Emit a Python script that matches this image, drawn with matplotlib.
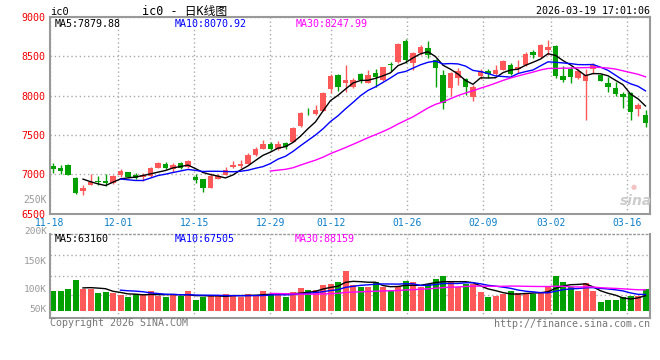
import matplotlib
matplotlib.use('Agg')
import matplotlib.pyplot as plt
import numpy as np
import pandas as pd

# daily OHLC (11-18 .. 03-19, 80 trading days)
opens = [7105, 7080, 7120, 6958, 6788, 6868, 6912, 6915, 6885, 6995,
         7029, 6995, 6962, 6978, 7084, 7131, 7064, 7144, 7093, 6966,
         6940, 6826, 6940, 6995, 7097, 7110, 7131, 7242, 7326, 7385,
         7322, 7398, 7411, 7610, 7810, 7767, 7809, 8089, 8263, 8157,
         8114, 8276, 8165, 8292, 8200, 8400, 8424, 8695, 8412, 8539,
         8602, 8453, 8263, 8094, 8229, 8212, 7987, 8250, 8314, 8272,
         8327, 8390, 8340, 8390, 8560, 8488, 8580, 8631, 8250, 8335,
         8229, 8191, 8335, 8263, 8165, 8094, 8021, 8038, 7830, 7754]
highs = [7140, 7118, 7125, 6968, 6864, 7000, 6978, 7000, 6985, 7064,
         7035, 7020, 7013, 7090, 7160, 7153, 7140, 7160, 7182, 7000,
         6945, 7013, 7000, 7097, 7169, 7182, 7271, 7351, 7436, 7407,
         7423, 7405, 7605, 7790, 7847, 7881, 8045, 8272, 8270, 8390,
         8230, 8285, 8327, 8335, 8370, 8428, 8670, 8717, 8550, 8650,
         8695, 8460, 8327, 8300, 8348, 8220, 8136, 8335, 8340, 8390,
         8455, 8420, 8454, 8560, 8585, 8655, 8708, 8640, 8381, 8369,
         8340, 8335, 8412, 8280, 8241, 8178, 8050, 8050, 7911, 7818]
lows = [7020, 7000, 6985, 6755, 6737, 6868, 6864, 6851, 6880, 6970,
        6965, 6936, 6911, 6970, 7075, 7064, 7033, 7064, 7085, 6893,
        6780, 6820, 6935, 6990, 7076, 7084, 7125, 7235, 7320, 7309,
        7315, 7326, 7405, 7600, 7754, 7760, 7800, 8038, 8063, 8050,
        8100, 8165, 8160, 8106, 8190, 8318, 8410, 8412, 8327, 8520,
        8475, 8114, 7827, 8000, 8136, 8008, 7936, 8208, 8229, 8265,
        8320, 8265, 8285, 8380, 8479, 8480, 8517, 8229, 8178, 8165,
        8210, 7690, 8276, 8180, 8050, 7996, 7847, 7690, 7742, 7605]
closes = [7065, 7042, 6990, 6766, 6830, 6902, 6902, 6885, 6978, 7038,
          6970, 6950, 6987, 7080, 7148, 7076, 7114, 7076, 7169, 6928,
          6826, 6982, 6978, 7055, 7118, 7135, 7249, 7322, 7382, 7322,
          7385, 7347, 7589, 7780, 7800, 7818, 8038, 8250, 8114, 8200,
          8200, 8200, 8263, 8237, 8361, 8390, 8657, 8453, 8539, 8623,
          8517, 8352, 7903, 8285, 8314, 8114, 8106, 8310, 8280, 8327,
          8441, 8272, 8361, 8530, 8517, 8644, 8614, 8254, 8200, 8241,
          8314, 8263, 8386, 8187, 8114, 8025, 7983, 7796, 7881, 7656]
volumes = [84000, 84000, 92400, 128900, 89500, 89500, 74300, 79800, 74300, 65900,
           58800, 68500, 65900, 82700, 61700, 58800, 70100, 61700, 82700, 44900,
           55900, 65900, 63000, 70100, 61700, 55900, 70100, 65900, 82700, 70100,
           65900, 58800, 78500, 95300, 86900, 86900, 107900, 112100, 120500, 168000,
           107900, 100800, 100800, 120500, 97900, 84000, 105000, 126000, 120500, 97900,
           112100, 133100, 145700, 120500, 97900, 112100, 112100, 78500, 57500, 61700,
           70100, 84000, 75600, 70100, 70100, 78500, 103700, 145700, 120500, 97900,
           84000, 116300, 82700, 37800, 44900, 44900, 55900, 61700, 61700, 91100]

tick_days = [0, 9, 19, 29, 37, 47, 57, 66, 76]
tick_labels = ['11-18', '12-01', '12-15', '12-29', '01-12', '01-26', '02-09', '03-02', '03-16']
price_ticks = [6500, 7000, 7500, 8000, 8500, 9000]

RED = '#ff5858'
GREEN = '#00a000'
GRID = '#aaaaaa'
FRAME = '#999999'
MONO = ['DejaVu Sans Mono', 'Noto Sans CJK SC']
plt.rcParams['font.family'] = MONO

df = pd.DataFrame({'o': opens, 'h': highs, 'l': lows, 'c': closes, 'v': volumes})
n = len(df)
x = np.arange(n)
up = df['c'] >= df['o']
cols = np.where(up, RED, GREEN)

W, H = 660, 360
fig = plt.figure(figsize=(6.6, 3.6), dpi=100)


def box(l, t, r, b):
    return [l / W, 1 - b / H, (r - l) / W, (b - t) / H]


def ftext(px, py, s, **kw):
    fig.text(px / W, 1 - py / H, s, va='center', **kw)


ax = fig.add_axes(box(50, 17, 650, 213.6))
axv = fig.add_axes(box(50, 234, 650, 318))

# grid positions of dates (Sina spaces date grid over n-1 intervals)
gx = [d * n / (n - 1) - 0.4 for d in tick_days]

for a in (ax, axv):
    a.set_xlim(-0.4, n - 0.4)
    a.set_xticks(gx)
    a.grid(True, color=GRID, linestyle=(0, (1, 2)), linewidth=1)
    a.set_axisbelow(True)
    a.tick_params(length=0)
    for s in a.spines.values():
        s.set_color(FRAME)
        s.set_linewidth(1.5)

# candles
ax.vlines(x, df['l'], df['h'], colors=cols, linewidth=1)
body = (df['c'] - df['o']).abs().clip(lower=10)
ax.bar(x, body, bottom=df[['o', 'c']].min(axis=1), width=0.7, color=cols, linewidth=0)

ma5 = df['c'].rolling(5).mean()
ma10 = df['c'].rolling(10).mean()
ma30 = df['c'].rolling(30).mean()
ax.plot(x, ma5, color='black', linewidth=1)
ax.plot(x, ma10, color='#0000ff', linewidth=1)
ax.plot(x, ma30, color='#ff00ff', linewidth=1)

ax.set_ylim(6500, 9000)
ax.set_yticks(price_ticks)
ax.set_yticklabels([str(p) for p in price_ticks], color='#ee0000', fontsize=7.2)
ax.tick_params(axis='y', pad=3)
ax.set_xticklabels(tick_labels, color='#0a7fc9', fontsize=7)
ax.tick_params(axis='x', pad=3)

# volume
axv.bar(x, df['v'], width=0.8, color=cols, linewidth=0)
axv.plot(x, df['v'].rolling(5).mean(), color='black', linewidth=1)
axv.plot(x, df['v'].rolling(10).mean(), color='#0000ff', linewidth=1)
axv.plot(x, df['v'].rolling(30).mean(), color='#ff00ff', linewidth=1)
px_unit = 4200
axv.set_ylim(-(318 - 310.7) * px_unit, (310.7 - 234) * px_unit)
axv.set_yticks([(310.7 - 255) * px_unit, (310.7 - 276) * px_unit, (310.7 - 295) * px_unit])
axv.set_yticklabels([])
axv.set_xticklabels([])
axv.spines['top'].set_linestyle((0, (1, 2)))
axv.spines['top'].set_linewidth(1)

# header texts
ftext(50, 12, 'ic0', fontsize=7.5, color='black')
ftext(142, 12, 'ic0 - 日K线图', fontsize=8.5, color='black')
ftext(650, 11, '2026-03-19 17:01:06', fontsize=7.2, color='black', ha='right')
ftext(55, 24, 'MA5:7879.88', fontsize=7.2, color='black')
ftext(175, 24, 'MA10:8070.92', fontsize=7.2, color='#0000ff')
ftext(296, 24, 'MA30:8247.99', fontsize=7.2, color='#ff00ff')
ftext(47, 200, '250K', fontsize=7, color='#999999', ha='right')

# volume labels
for lab, py in [('200K', 232), ('150K', 261), ('100K', 290), ('50K', 310)]:
    ftext(47, py, lab, fontsize=6.8, color='#999999', ha='right')
ftext(55, 238.5, 'MA5:63160', fontsize=7.2, color='black')
ftext(175, 238.5, 'MA10:67505', fontsize=7.2, color='#0000ff')
ftext(295, 238.5, 'MA30:88159', fontsize=7.2, color='#ff00ff')

# footer
ftext(50, 323, 'Copyright 2026 SINA.COM', fontsize=7.2, color='#777777')
ftext(650, 324, 'http://finance.sina.com.cn', fontsize=7.2, color='#777777', ha='right')

# watermark
ftext(636, 201, 'sina', fontsize=10, color='#cccccc', ha='center',
      style='italic', fontweight='bold', family='DejaVu Sans')
ftext(634, 187, '●', fontsize=5, color='#f4c4c4', ha='center', family='DejaVu Sans')

fig.savefig('out.png', dpi=100)
